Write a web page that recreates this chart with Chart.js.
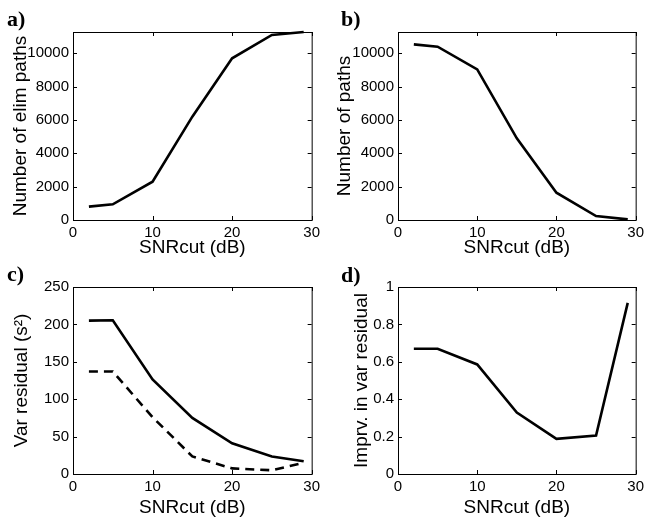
<!DOCTYPE html>
<html>
<head>
<meta charset="utf-8">
<script src="https://cdn.jsdelivr.net/npm/chart.js@4"></script>
<style>
  body { margin: 0; background: #fff; }
  #wrap { position: relative; width: 648px; height: 521px; background: #fff; overflow: hidden; }
  #wrap canvas { position: absolute; }
  .tag { position: absolute; font: bold 22px "Liberation Serif", "Times New Roman", serif; line-height: 22px; color: #000; }
</style>
</head>
<body>
<div id="wrap">
  <canvas id="pa" width="324" height="260" style="left:0;top:0"></canvas>
  <canvas id="pb" width="324" height="260" style="left:324px;top:0"></canvas>
  <canvas id="pc" width="324" height="261" style="left:0;top:260px"></canvas>
  <canvas id="pd" width="324" height="261" style="left:324px;top:260px"></canvas>
  <div class="tag" style="left:7px;top:8px">a)</div>
  <div class="tag" style="left:341px;top:8px">b)</div>
  <div class="tag" style="left:7px;top:263px">c)</div>
  <div class="tag" style="left:341px;top:264px">d)</div>
</div>
<script>
// SNR cut values (dB)
const snrCut = [2, 5, 10, 15, 20, 25, 29];

// a) eliminated paths, b) remaining paths
const elimPaths = [800, 940, 2300, 6200, 9700, 11100, 11280];
const numPaths = [10540, 10400, 9040, 4900, 1640, 240, 40];

// c) residual variance, solid and dashed curves
const varResidual = [205, 205.5, 126.5, 75, 41, 23.5, 17];
const varResidualDashed = [137, 137, 76, 23.5, 7.5, 5, 15];

// d) improvement in residual variance
const imprvVar = [0.67, 0.67, 0.586, 0.329, 0.188, 0.206, 0.915];

// tick labels
const xTicks = [0, 10, 20, 30];
const pathTicks = [0, 2000, 4000, 6000, 8000, 10000];
const varTicks = [0, 50, 100, 150, 200, 250];
const imprvTicks = [0, 0.2, 0.4, 0.6, 0.8, 1];

const FONT = '"Liberation Sans", Arial, Helvetica, sans-serif';

// box around the plot area + inward ticks on all four sides (matlab look)
const boxTicks = {
  id: 'boxTicks',
  afterDraw(chart) {
    const { ctx, chartArea: a, scales } = chart;
    const len = 4;
    ctx.save();
    ctx.strokeStyle = '#000';
    ctx.lineWidth = 1;
    ctx.strokeRect(a.left + 0.5, a.top + 0.5, a.right - a.left, a.bottom - a.top);
    ctx.beginPath();
    scales.x.ticks.forEach(t => {
      const px = Math.round(scales.x.getPixelForValue(t.value)) + 0.5;
      ctx.moveTo(px, a.bottom); ctx.lineTo(px, a.bottom - len);
      ctx.moveTo(px, a.top); ctx.lineTo(px, a.top + len);
    });
    scales.y.ticks.forEach(t => {
      const py = Math.round(scales.y.getPixelForValue(t.value)) + 0.5;
      ctx.moveTo(a.left, py); ctx.lineTo(a.left + len, py);
      ctx.moveTo(a.right, py); ctx.lineTo(a.right - len, py);
    });
    ctx.stroke();
    ctx.restore();
  }
};

function makePanel(id, datasets, o) {
  new Chart(document.getElementById(id), {
    type: 'line',
    data: { labels: snrCut, datasets: datasets },
    options: {
      responsive: false,
      animation: false,
      devicePixelRatio: 1,
      layout: { padding: { top: o.top, right: o.right, left: 0, bottom: 0 } },
      plugins: { legend: { display: false }, tooltip: { enabled: false } },
      elements: { point: { radius: 0 }, line: { tension: 0 } },
      scales: {
        x: {
          type: 'linear', min: 0, max: 30,
          afterBuildTicks: s => { s.ticks = xTicks.map(v => ({ value: v })); },
          afterFit: s => { s.height = o.xh; },
          grid: { display: false, drawTicks: false },
          border: { display: false },
          ticks: { color: '#000', font: { family: FONT, size: 15 }, padding: 4, maxRotation: 0,
                   callback: v => String(v) },
          title: { display: true, text: 'SNRcut (dB)', color: '#000',
                   font: { family: FONT, size: 19 }, padding: { top: 0, bottom: o.xtb } }
        },
        y: {
          type: 'linear', min: o.ymin, max: o.ymax,
          afterBuildTicks: s => { s.ticks = o.yticks.map(v => ({ value: v })); },
          afterFit: s => { s.width = o.yw; },
          grid: { display: false, drawTicks: false },
          border: { display: false },
          ticks: { color: '#000', font: { family: FONT, size: 15 }, padding: 4,
                   callback: v => String(v) },
          title: { display: true, text: o.ytitle, color: '#000',
                   font: { family: FONT, size: 19 }, padding: { top: o.ytp, bottom: 0 } }
        }
      }
    },
    plugins: [boxTicks]
  });
}

const solid = (d) => ({ data: d.map((v, i) => ({ x: snrCut[i], y: v })), borderColor: '#000',
                        borderWidth: 2.6, fill: false, clip: false });

makePanel('pa', [solid(elimPaths)],
  { top: 32, right: 10, xh: 40, yw: 73, ymin: 0, ymax: 11280, yticks: pathTicks,
    ytitle: 'Number of elim paths', ytp: 9, xtb: 1 });
makePanel('pb', [solid(numPaths)],
  { top: 32, right: 7, xh: 40, yw: 74, ymin: 0, ymax: 11280, yticks: pathTicks,
    ytitle: 'Number of paths', ytp: 9, xtb: 1 });
makePanel('pc', [solid(varResidual),
                 Object.assign(solid(varResidualDashed), { borderDash: [9, 6] })],
  { top: 27, right: 8, xh: 47, yw: 73, ymin: 0, ymax: 250, yticks: varTicks,
    ytitle: 'Var residual (s²)', ytp: 10, xtb: 2 });
makePanel('pd', [solid(imprvVar)],
  { top: 27, right: 8, xh: 47, yw: 74, ymin: 0, ymax: 1, yticks: imprvTicks,
    ytitle: 'Imprv. in var residual', ytp: 26, xtb: 2 });
</script>
</body>
</html>
